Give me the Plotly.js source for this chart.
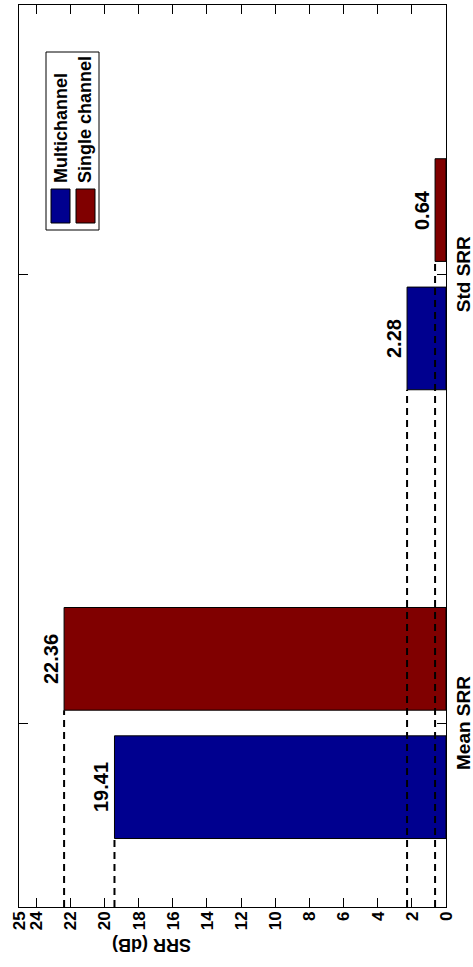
<!DOCTYPE html>
<html>
<head>
<meta charset="utf-8">
<script src="https://cdn.plot.ly/plotly-3.0.1.min.js"></script>
<style>
  html, body { margin: 0; padding: 0; background: #ffffff; overflow: hidden; }
  /* The figure is laid out landscape and turned a quarter turn anticlockwise */
  #chart {
    position: absolute; left: 0; top: 0;
    width: 967px; height: 473px;
    transform-origin: 0 0;
    transform: translate(0px, 967px) rotate(-90deg);
  }
</style>
</head>
<body>
<div id="chart"></div>
<script>
// ---- data ----
const categories = ['Mean SRR', 'Std SRR'];
const seriesNames = ['Multichannel', 'Single channel'];
const multichannel = [19.41, 2.28];
const singleChannel = [22.36, 0.64];
const valueTicks = [0, 2, 4, 6, 8, 10, 12, 14, 16, 18, 20, 22, 24, 25];
const valueTickLabels = ['0', '2', '4', '6', '8', '10', '12', '14', '16', '18', '20', '22', '24', '25'];
const axisTitle = 'SRR (dB)';

// ---- styling ----
const FONT = '"Liberation Sans", Arial, Helvetica, sans-serif';
const colors = ['#00008f', '#800000'];
const W = 967, H = 473;
const M = { l: 60, r: 5, t: 19, b: 27 };
const X_RANGE = [0.59, 2.6];
const Y_RANGE = [0, 25];
const BARGAP = 0.428, GROUPGAP = 0.2;

const series = [multichannel, singleChannel];
const catPos = categories.map((c, i) => i + 1);
const slot = (1 - BARGAP) / series.length;
const barW = slot * (1 - GROUPGAP);
const offsetOf = s => (s - (series.length - 1) / 2) * slot;

const traces = [];
series.forEach((vals, s) => {
  traces.push({
    type: 'bar', name: seriesNames[s], x: catPos, y: vals,
    marker: { color: colors[s], line: { color: '#000000', width: 1 } },
    showlegend: false, hoverinfo: 'skip'
  });
});

// dashed reference lines from the axis edge to each bar
series.forEach((vals, s) => {
  vals.forEach((v, i) => {
    const edge = catPos[i] + offsetOf(s) - barW / 2;
    traces.push({
      type: 'scatter', mode: 'lines', x: [X_RANGE[0], edge], y: [v, v],
      line: { color: '#000000', width: 2, dash: '7px,5px' },
      showlegend: false, hoverinfo: 'skip'
    });
  });
});

// value labels above the bars
const annotations = [];
series.forEach((vals, s) => {
  vals.forEach((v, i) => {
    annotations.push({
      x: catPos[i] + offsetOf(s), y: v, xref: 'x', yref: 'y',
      text: v.toFixed(2), showarrow: false, yanchor: 'bottom', yshift: 0,
      font: { family: FONT, size: 20, color: '#000000', weight: 'bold' }
    });
  });
});

// pixel helpers relative to the plot frame
const pw = W - M.l - M.r, ph = H - M.t - M.b;
const px = X => (X - M.l) / pw;
const py = Y => (H - M.b - Y) / ph;

// value-axis title, set slightly toward the high end of the scale
annotations.push({
  xref: 'paper', yref: 'paper', x: px(22), y: py(152),
  xanchor: 'center', yanchor: 'middle', textangle: -90,
  text: axisTitle, showarrow: false,
  font: { family: FONT, size: 18, color: '#000000', weight: 'bold' }
});

// legend box with swatches
const shapes = [{
  type: 'rect', xref: 'paper', yref: 'paper',
  x0: px(737), x1: px(915), y0: py(99), y1: py(46),
  line: { color: '#000000', width: 1 }, fillcolor: '#ffffff', layer: 'above'
}];
const rowTop = [51, 76], rowH = 19;
seriesNames.forEach((name, s) => {
  shapes.push({
    type: 'rect', xref: 'paper', yref: 'paper',
    x0: px(744), x1: px(778), y0: py(rowTop[s] + rowH), y1: py(rowTop[s]),
    line: { color: '#000000', width: 1 }, fillcolor: colors[s], layer: 'above'
  });
  annotations.push({
    xref: 'paper', yref: 'paper', x: px(782), y: py(rowTop[s] + rowH / 2),
    xanchor: 'left', yanchor: 'middle', text: name, showarrow: false,
    font: { family: FONT, size: 18, color: '#000000', weight: 'bold' }
  });
});

const layout = {
  width: W, height: H,
  margin: M,
  paper_bgcolor: '#ffffff', plot_bgcolor: '#ffffff',
  barmode: 'group', bargap: BARGAP, bargroupgap: GROUPGAP,
  showlegend: false,
  xaxis: {
    range: X_RANGE, tickvals: catPos, ticktext: categories,
    showline: true, linecolor: '#000000', linewidth: 1, mirror: 'ticks',
    ticks: 'inside', ticklen: 9, tickcolor: '#000000', tickwidth: 1,
    showgrid: false, zeroline: false,
    tickfont: { family: FONT, size: 19, color: '#000000', weight: 'bold' }
  },
  yaxis: {
    range: Y_RANGE, tickvals: valueTicks, ticktext: valueTickLabels,
    showline: true, linecolor: '#000000', linewidth: 1, mirror: 'ticks',
    ticks: 'inside', ticklen: 9, tickcolor: '#000000', tickwidth: 1,
    showgrid: false, zeroline: false,
    tickfont: { family: FONT, size: 17, color: '#000000', weight: 'bold' }
  },
  shapes: shapes,
  annotations: annotations
};

Plotly.newPlot('chart', traces, layout, { staticPlot: true, displayModeBar: false });
</script>
</body>
</html>
